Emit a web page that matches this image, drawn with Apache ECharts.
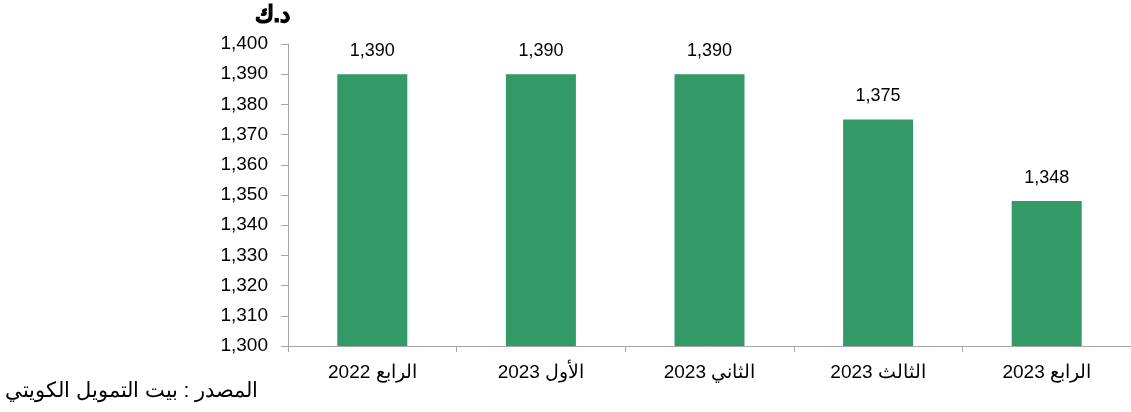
<!DOCTYPE html>
<html><head><meta charset="utf-8">
<script src="https://cdn.jsdelivr.net/npm/echarts@6/dist/echarts.min.js"></script>
<style>html,body{margin:0;padding:0;background:#fff}#c{width:1131px;height:412px}</style>
</head><body><div id="c"></div>
<script>
const categories = ['الرابع 2022','الأول 2023','الثاني 2023','الثالث 2023','الرابع 2023'];
const values = [1390, 1390, 1390, 1375, 1348];
const unitLabel = 'د.ك';
const sourceText = 'المصدر : بيت التمويل الكويتي';

const chart = echarts.init(document.getElementById('c'));
const font = 'Arial, "Liberation Sans", sans-serif';
chart.setOption({
  animation: false,
  grid: {left: 288, right: 0, top: 44, bottom: 66, containLabel: false},
  graphic: [
    {type: 'text', left: 254, top: 4, style: {text: unitLabel, font: '900 23px Arial, "Liberation Sans", sans-serif', fill: '#000', stroke: '#000', lineWidth: 1}},
    {type: 'text', left: 5, top: 381, style: {text: sourceText, font: '21px Arial, "Liberation Sans", sans-serif', fill: '#000'}}
  ],
  xAxis: {
    type: 'category', data: categories,
    axisLine: {lineStyle: {color: '#a6a6a6', width: 1}},
    axisTick: {show: true, alignWithLabel: false, length: 6, lineStyle: {color: '#a6a6a6'}},
    axisLabel: {color: '#000', fontSize: 19, fontFamily: font, margin: 17}
  },
  yAxis: {
    type: 'value', min: 1300, max: 1400, interval: 10,
    splitLine: {show: false},
    axisLine: {show: true, lineStyle: {color: '#a6a6a6'}},
    axisTick: {show: true, length: 7, lineStyle: {color: '#a6a6a6'}},
    axisLabel: {color: '#000', fontSize: 19, fontFamily: font, margin: 20,
      formatter: v => v.toLocaleString('en-US')}
  },
  series: [{
    type: 'bar', data: values, barWidth: 70,
    itemStyle: {color: '#339966'},
    label: {show: true, position: 'top', distance: 14, color: '#000', fontSize: 18, fontFamily: font,
      formatter: p => p.value.toLocaleString('en-US')}
  }]
});
</script></body></html>
